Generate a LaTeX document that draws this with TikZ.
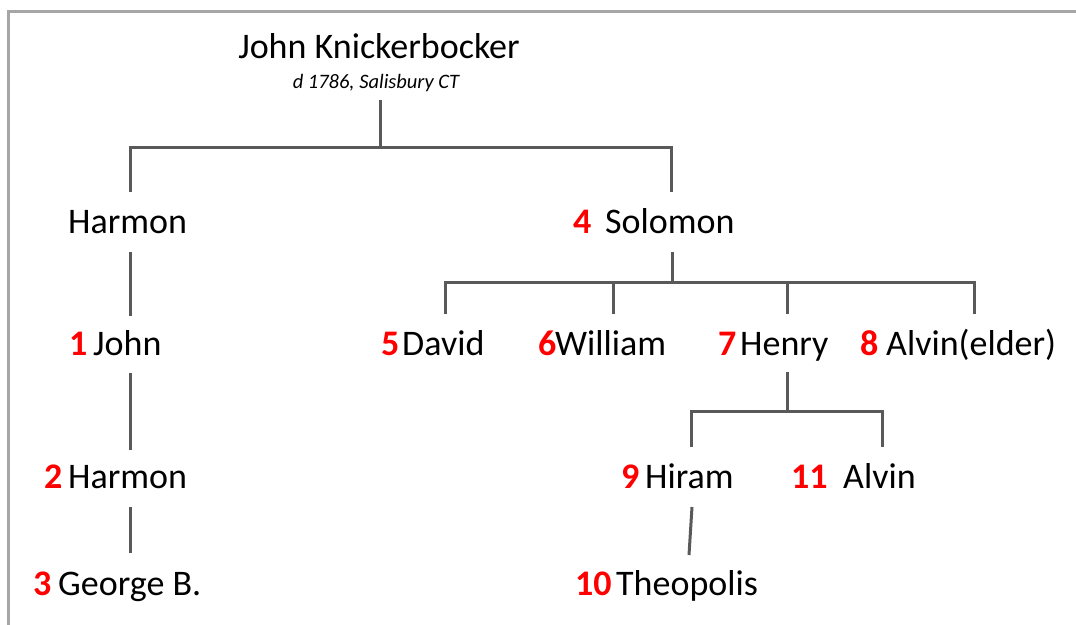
\documentclass[tikz,border=0pt]{standalone}
\usepackage{fontspec}
\setmainfont{Carlito}
\definecolor{linegray}{HTML}{595959}
\definecolor{framegray}{HTML}{A6A6A6}
\begin{document}
\begin{tikzpicture}[x=1pt,y=-1pt,
  person/.style={anchor=base west,inner sep=0pt,font=\fontsize{36}{43}\selectfont},
  gennum/.style={anchor=base west,inner sep=0pt,text=red,font=\fontsize{36}{43}\selectfont\bfseries},
  link/.style={draw=linegray,line width=3pt},
  frameline/.style={draw=framegray,line width=3pt}]
\useasboundingbox (0,0) rectangle (1076,624);
\draw[frameline] (8.5,630) -- (8.5,11.5) -- (1080,11.5);
% title
\node[anchor=base,inner sep=0pt,font=\fontsize{36}{43}\selectfont] (title) at (379,58.5) {John Knickerbocker};
\node[anchor=base,inner sep=0pt,font=\fontsize{20.5}{24}\selectfont\itshape] (sub) at (376,88) {d 1786, Salisbury CT};
% people
\node[person] (harmonA) at (68,233) {Harmon};
\node[gennum] (n4) at (573,233) {4};
\node[person] (solomon) at (605,233) {Solomon};
\node[gennum] (n1) at (69,355) {1};
\node[person] (john) at (93,355) {John};
\node[gennum] (n5) at (381,355) {5};
\node[person] (david) at (402,355) {David};
\node[gennum] (n6) at (538,355) {6};
\node[person] (william) at (555,355) {William};
\node[gennum] (n7) at (718,355) {7};
\node[person] (henry) at (740,355) {Henry};
\node[gennum] (n8) at (860,355) {8};
\node[person] (alvinE) at (886,355) {Alvin(elder)};
\node[gennum] (n2) at (44,488) {2};
\node[person] (harmonB) at (68,488) {Harmon};
\node[gennum] (n9) at (621,488) {9};
\node[person] (hiram) at (645,488) {Hiram};
\node[gennum] (n11) at (791,488) {11};
\node[person] (alvin) at (843,488) {Alvin};
\node[gennum] (n3) at (33,595) {3};
\node[person] (george) at (58,595) {George B.};
\node[gennum] (n10) at (575,595) {10};
\node[person] (theo) at (616,595) {Theopolis};
% junction coordinates
\coordinate (tTop) at (380,100);
\coordinate (tBar) at (380,147);
\coordinate (barL) at (130,147);
\coordinate (barR) at (671,147);
\coordinate (dropH) at (130,192);
\coordinate (dropS) at (671,192);
\coordinate (hTop) at (130,252);
\coordinate (jTop) at (130,316);
\coordinate (jBot) at (130,373);
\coordinate (h2Top) at (130,450);
\coordinate (h2Bot) at (130,507);
\coordinate (gTop) at (130,553);
\coordinate (sBot) at (672,252);
\coordinate (sBar) at (672,282);
\coordinate (sBarL) at (445,282);
\coordinate (sBarR) at (974,282);
\coordinate (dD) at (445,314);
\coordinate (wBar) at (613,282);
\coordinate (dW) at (613,314);
\coordinate (hBar) at (787,282);
\coordinate (dHe) at (787,314);
\coordinate (dA) at (974,314);
\coordinate (heBot) at (787,372);
\coordinate (heBar) at (787,411);
\coordinate (heBarL) at (691,411);
\coordinate (heBarR) at (882,411);
\coordinate (dHi) at (691,447);
\coordinate (dAl) at (882,447);
\coordinate (hiBot) at (692,507);
\coordinate (thTop) at (689,555);
% connectors
\draw[link] (tTop) -- (tBar);
\draw[link] (dropH) -- (barL) -- (barR) -- (dropS);
\draw[link] (hTop) -- (jTop);
\draw[link] (jBot) -- (h2Top);
\draw[link] (h2Bot) -- (gTop);
\draw[link] (sBot) -- (sBar);
\draw[link] (dD) -- (sBarL) -- (sBarR) -- (dA);
\draw[link] (wBar) -- (dW);
\draw[link] (hBar) -- (dHe);
\draw[link] (heBot) -- (heBar);
\draw[link] (dHi) -- (heBarL) -- (heBarR) -- (dAl);
\draw[link] (hiBot) -- (thTop);
\end{tikzpicture}
\end{document}
